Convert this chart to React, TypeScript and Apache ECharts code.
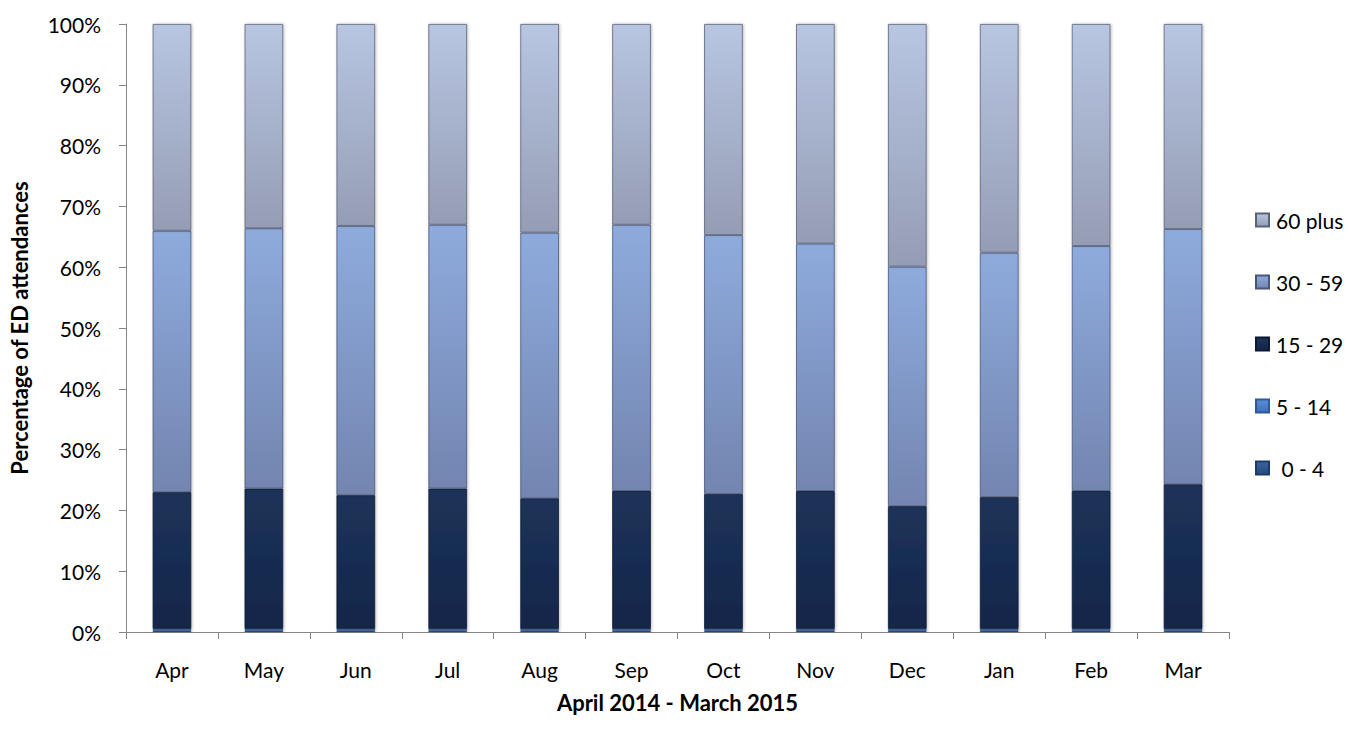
import React, { useEffect, useRef } from "react";
import * as echarts from "echarts";

const months = ["Apr", "May", "Jun", "Jul", "Aug", "Sep", "Oct", "Nov", "Dec", "Jan", "Feb", "Mar"];
const yTicks = [0, 10, 20, 30, 40, 50, 60, 70, 80, 90, 100];
const age0to4 = [0.2, 0.2, 0.2, 0.2, 0.2, 0.2, 0.2, 0.2, 0.2, 0.2, 0.2, 0.2];
const age5to14 = [0.3, 0.3, 0.3, 0.3, 0.3, 0.3, 0.3, 0.3, 0.3, 0.3, 0.3, 0.3];
const age15to29 = [22.5, 23.1, 22.0, 23.1, 21.5, 22.7, 22.2, 22.7, 20.2, 21.7, 22.7, 23.8];
const age30to59 = [43.0, 42.8, 44.3, 43.4, 43.7, 43.8, 42.6, 40.7, 39.4, 40.2, 40.3, 42.0];
const age60plus = [34.0, 33.6, 33.2, 33.0, 34.3, 33.0, 34.7, 36.1, 39.9, 37.6, 36.5, 33.7];

const FONT = "Lato, 'Open Sans', sans-serif";

const grad = (top: string, bottom: string) =>
  new echarts.graphic.LinearGradient(0, 0, 0, 1, [
    { offset: 0, color: top },
    { offset: 1, color: bottom },
  ]);

export default function App() {
  const ref = useRef<HTMLDivElement>(null);
  useEffect(() => {
    if (!ref.current) return;
    const chart = echarts.init(ref.current, null, { renderer: "svg" });
    const mk = (name: string, data: number[], top: string, bottom: string, border: string) => ({
      name,
      type: "bar",
      stack: "total",
      data,
      barWidth: "42%",
      itemStyle: {
        color: grad(top, bottom),
        borderColor: border,
        borderWidth: 0.8,
        shadowColor: "rgba(0,0,0,0.25)",
        shadowBlur: 3,
        shadowOffsetX: 1,
      },
      emphasis: { disabled: true },
    });
    chart.setOption({
      animation: false,
      backgroundColor: "#ffffff",
      grid: { left: 125, right: 120, top: 24, bottom: 110, containLabel: false },
      legend: {
        orient: "vertical",
        left: 1250,
        top: 203,
        itemWidth: 13,
        itemHeight: 13,
        itemGap: 38,
        icon: "rect",
        data: ["60 plus", "30 - 59", "15 - 29", "5 - 14", " 0 - 4"],
        textStyle: { fontFamily: FONT, fontSize: 21, color: "#000", lineHeight: 24, padding: [0, 0, 0, 2] },
      },
      xAxis: {
        type: "category",
        data: months,
        boundaryGap: true,
        name: "April 2014 - March 2015",
        nameLocation: "middle",
        nameGap: 59,
        nameTextStyle: { fontFamily: FONT, fontSize: 22, fontWeight: "bold", color: "#000" },
        axisLine: { show: true, lineStyle: { color: "#868686", width: 1 } },
        axisTick: { show: true, length: 7, alignWithLabel: false, lineStyle: { color: "#868686" } },
        axisLabel: { fontFamily: FONT, fontSize: 21, color: "#000", margin: 27 },
      },
      yAxis: {
        type: "value",
        min: yTicks[0],
        max: yTicks[yTicks.length - 1],
        interval: 10,
        name: "Percentage of ED attendances",
        nameLocation: "middle",
        nameGap: 96,
        nameTextStyle: { fontFamily: FONT, fontSize: 22, fontWeight: "bold", color: "#000" },
        axisLine: { show: true, lineStyle: { color: "#868686", width: 1 } },
        axisTick: { show: true, length: 7, lineStyle: { color: "#868686" } },
        splitLine: { show: false },
        axisLabel: { fontFamily: FONT, fontSize: 21, color: "#000", margin: 25, formatter: "{value}%" },
      },
      series: [
        mk(" 0 - 4", age0to4, "#3a63a0", "#254a80", "#1f3a66"),
        mk("5 - 14", age5to14, "#5b8fd6", "#3c6fb8", "#2f5a98"),
        mk("15 - 29", age15to29, "#1d3358", "#13264a", "#0d1a33"),
        mk("30 - 59", age30to59, "#8eabdd", "#7385b0", "#4a5676"),
        mk("60 plus", age60plus, "#b8c6e2", "#959db4", "#5b6278"),
      ],
    });
    return () => chart.dispose();
  }, []);
  return <div ref={ref} style={{ position: "absolute", left: 0, top: 0, width: 1349, height: 742 }} />;
}
